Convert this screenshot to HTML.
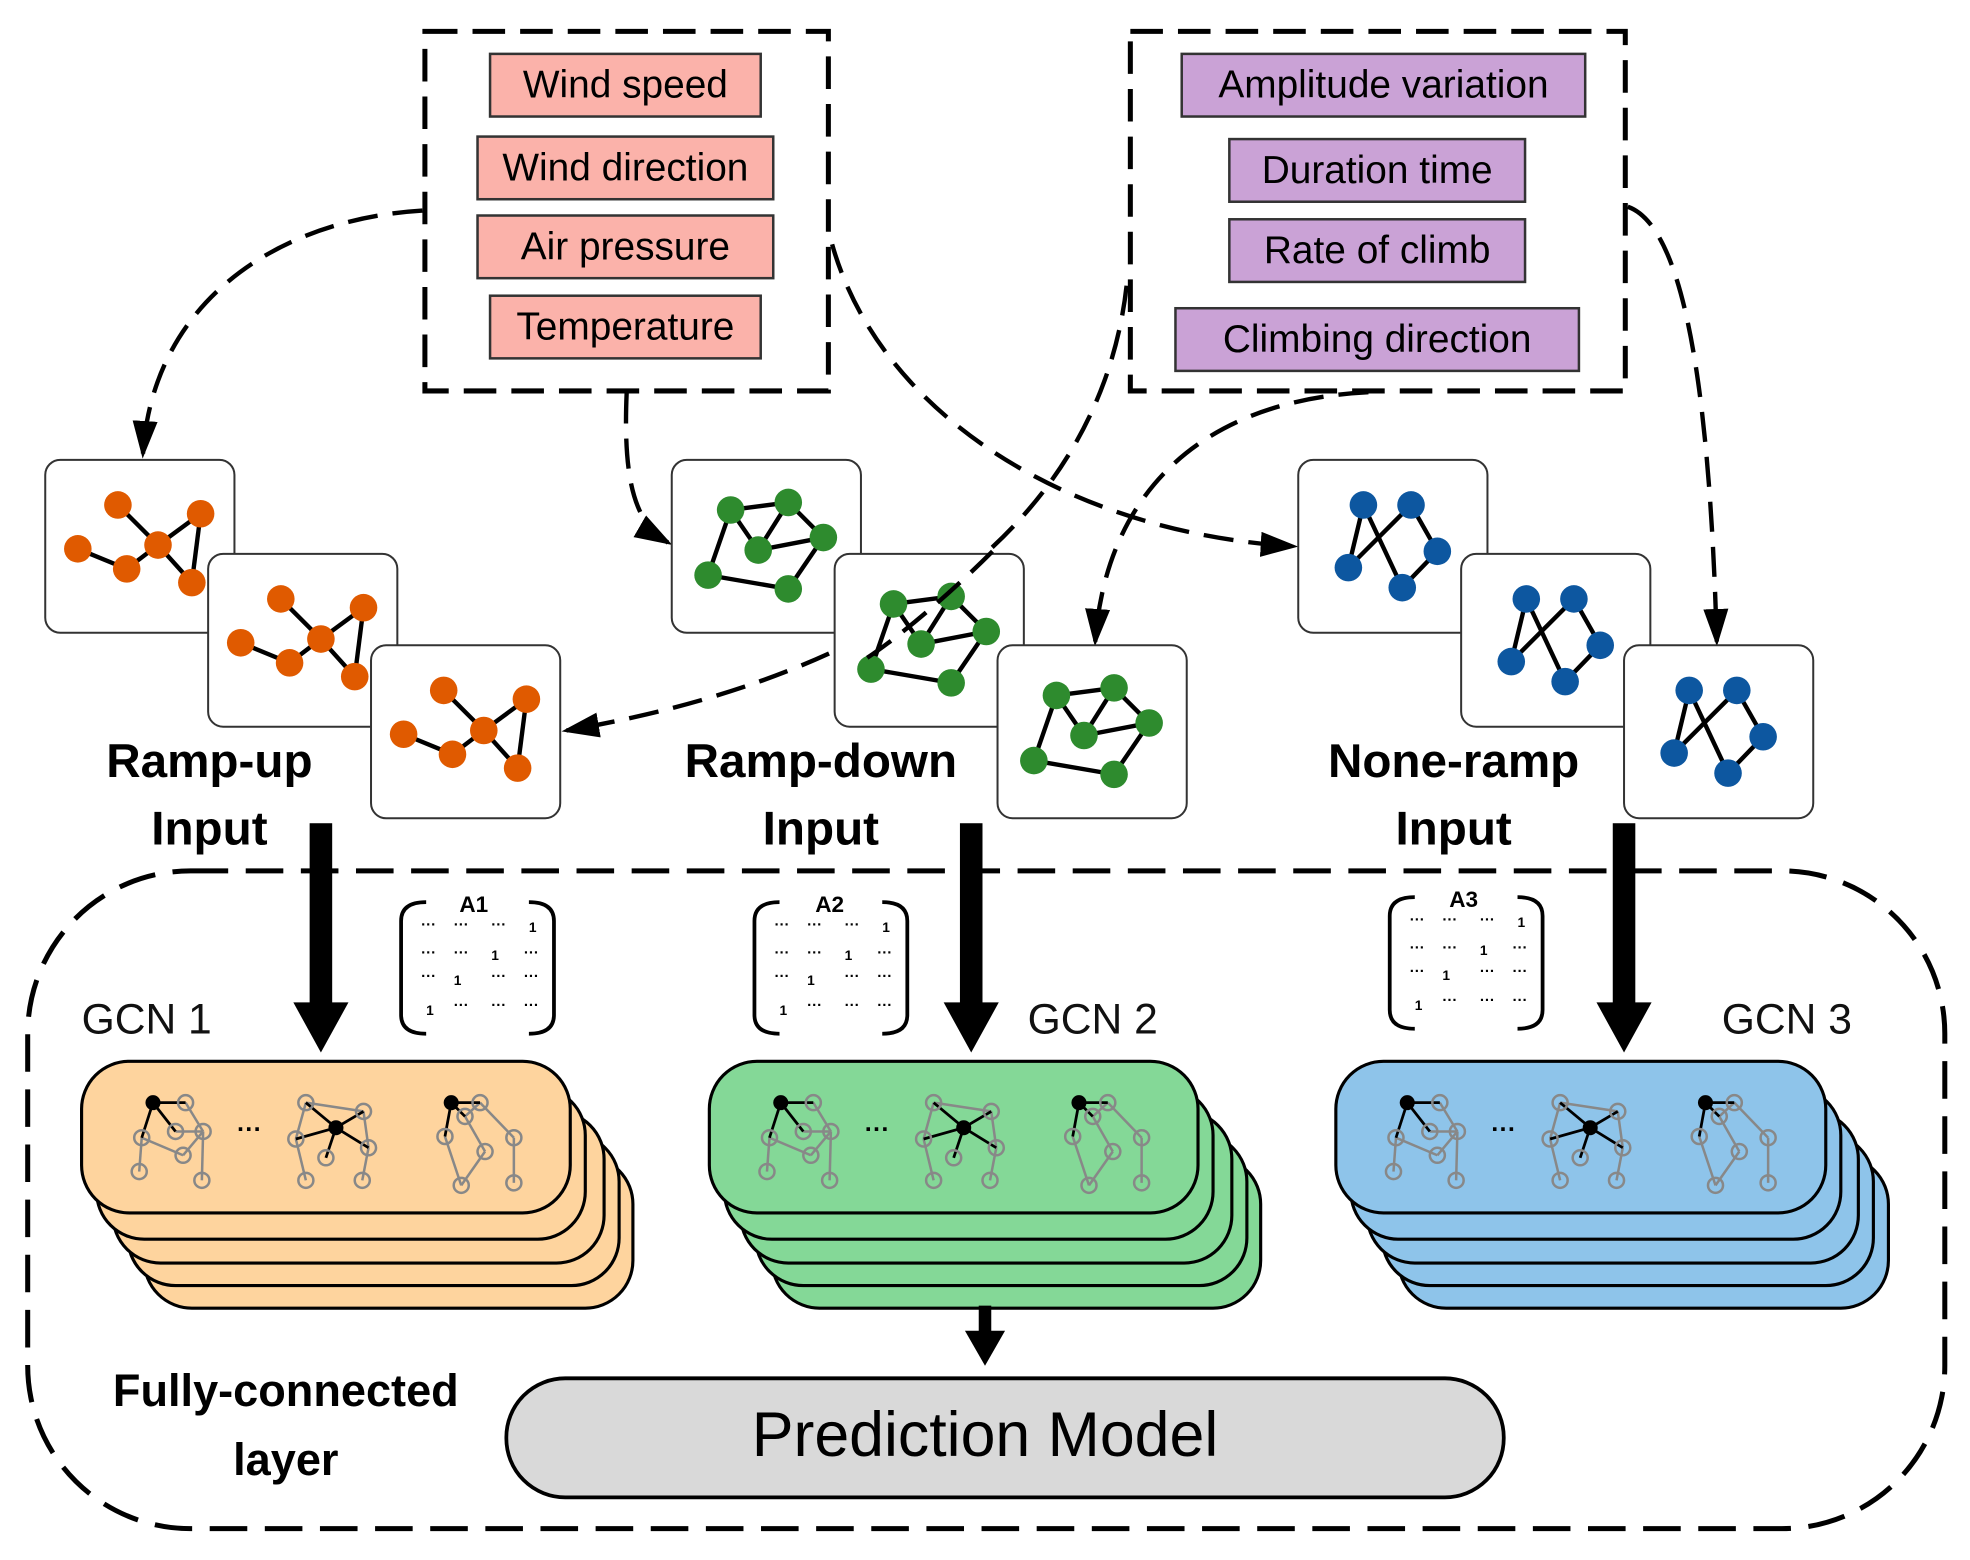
<!DOCTYPE html>
<html><head><meta charset="utf-8"><style>html,body{margin:0;padding:0;background:#fff}svg{display:block}</style></head><body>
<svg width="1970" height="1560" viewBox="0 0 1568 1245" xmlns="http://www.w3.org/2000/svg" font-family="Liberation Sans, sans-serif">
<defs>
<marker id="ah" markerWidth="30" markerHeight="20" refX="26" refY="10" orient="auto" markerUnits="userSpaceOnUse" viewBox="0 0 30 20"><path d="M0,0 L30,10 L0,20 z" fill="#000"/></marker>
<g id="og" stroke="#000" stroke-width="3.5">
<line x1="58" y1="36" x2="90" y2="68"/><line x1="90" y1="68" x2="124" y2="43"/><line x1="124" y1="43" x2="117" y2="98"/><line x1="90" y1="68" x2="117" y2="98"/><line x1="90" y1="68" x2="65" y2="87"/><line x1="65" y1="87" x2="26" y2="71"/>
<g fill="#e05a00" stroke="none"><circle cx="58" cy="36" r="11"/><circle cx="124" cy="43" r="11"/><circle cx="26" cy="71" r="11"/><circle cx="90" cy="68" r="11"/><circle cx="65" cy="87" r="11"/><circle cx="117" cy="98" r="11"/></g></g>
<g id="gg" stroke="#000" stroke-width="3.5">
<line x1="47" y1="40" x2="93" y2="34"/><line x1="93" y1="34" x2="121" y2="62"/><line x1="47" y1="40" x2="29" y2="92"/><line x1="69" y1="72" x2="121" y2="62"/><line x1="47" y1="40" x2="69" y2="72"/><line x1="121" y1="62" x2="93" y2="103"/><line x1="29" y1="92" x2="93" y2="103"/><line x1="69" y1="72" x2="93" y2="34"/>
<g fill="#2e8b2e" stroke="none"><circle cx="47" cy="40" r="11"/><circle cx="93" cy="34" r="11"/><circle cx="121" cy="62" r="11"/><circle cx="69" cy="72" r="11"/><circle cx="29" cy="92" r="11"/><circle cx="93" cy="103" r="11"/></g></g>
<g id="bg" stroke="#000" stroke-width="3.5">
<line x1="52" y1="36" x2="40" y2="86"/><line x1="52" y1="36" x2="83" y2="102"/><line x1="90" y1="36" x2="40" y2="86"/><line x1="90" y1="36" x2="111" y2="73"/><line x1="111" y1="73" x2="83" y2="102"/>
<g fill="#0d57a0" stroke="none"><circle cx="52" cy="36" r="11"/><circle cx="90" cy="36" r="11"/><circle cx="111" cy="73" r="11"/><circle cx="40" cy="86" r="11"/><circle cx="83" cy="102" r="11"/></g></g>
<g id="icons">
<g stroke="#888" stroke-width="2" fill="none">
<line x1="146" y1="880" x2="160" y2="903"/><line x1="111" y1="908" x2="144" y2="922"/><line x1="144" y1="922" x2="160" y2="903"/><line x1="138" y1="903" x2="160" y2="903"/><line x1="111" y1="908" x2="109" y2="935"/><line x1="160" y1="903" x2="159" y2="942"/>
<line x1="242" y1="880" x2="288" y2="887"/><line x1="234" y1="909" x2="242" y2="942"/><line x1="288" y1="887" x2="292" y2="916"/><line x1="292" y1="916" x2="287" y2="942"/><line x1="242" y1="880" x2="234" y2="909"/>
<line x1="381" y1="880" x2="408" y2="908"/><line x1="408" y1="908" x2="408" y2="944"/><line x1="369" y1="891" x2="385" y2="919"/><line x1="385" y1="919" x2="366" y2="946"/><line x1="353" y1="907" x2="366" y2="946"/><line x1="381" y1="880" x2="369" y2="891"/>
</g>
<g stroke="#000" stroke-width="2.2">
<line x1="120" y1="880" x2="146" y2="880"/><line x1="120" y1="880" x2="111" y2="908"/><line x1="120" y1="880" x2="138" y2="903"/>
<line x1="266" y1="900" x2="242" y2="880"/><line x1="266" y1="900" x2="288" y2="887"/><line x1="266" y1="900" x2="234" y2="909"/><line x1="266" y1="900" x2="292" y2="916"/><line x1="266" y1="900" x2="258" y2="924"/>
<line x1="358" y1="880" x2="381" y2="880"/><line x1="358" y1="880" x2="353" y2="907"/><line x1="358" y1="880" x2="369" y2="891"/>
</g>
<g fill="none" stroke="#888" stroke-width="2">
<circle cx="146" cy="880" r="6"/><circle cx="111" cy="908" r="6"/><circle cx="138" cy="903" r="6"/><circle cx="160" cy="903" r="6"/><circle cx="144" cy="922" r="6"/><circle cx="109" cy="935" r="6"/><circle cx="159" cy="942" r="6"/>
<circle cx="242" cy="880" r="6"/><circle cx="288" cy="887" r="6"/><circle cx="234" cy="909" r="6"/><circle cx="292" cy="916" r="6"/><circle cx="258" cy="924" r="6"/><circle cx="242" cy="942" r="6"/><circle cx="287" cy="942" r="6"/>
<circle cx="381" cy="880" r="6"/><circle cx="353" cy="907" r="6"/><circle cx="369" cy="891" r="6"/><circle cx="408" cy="908" r="6"/><circle cx="385" cy="919" r="6"/><circle cx="366" cy="946" r="6"/><circle cx="408" cy="944" r="6"/>
</g>
<circle cx="120" cy="880" r="6" fill="#000"/><circle cx="266" cy="900" r="6" fill="#000"/><circle cx="358" cy="880" r="6" fill="#000"/>
<text x="197" y="908" font-size="20" text-anchor="middle" font-weight="bold">···</text>
</g>
<g id="mat" font-size="12" font-weight="bold">
<path d="M20,0 Q0,0 0,15 L0,90 Q0,105 20,105" fill="none" stroke="#000" stroke-width="3"/>
<path d="M102,0 Q122,0 122,15 L122,90 Q122,105 102,105" fill="none" stroke="#000" stroke-width="3"/>
<text x="16" y="22">···</text><text x="42" y="22">···</text><text x="72" y="22">···</text><text x="102" y="24" font-size="11">1</text>
<text x="16" y="44">···</text><text x="42" y="44">···</text><text x="72" y="46" font-size="11">1</text><text x="98" y="44">···</text>
<text x="16" y="63">···</text><text x="42" y="66" font-size="11">1</text><text x="72" y="63">···</text><text x="98" y="63">···</text>
<text x="20" y="90" font-size="11">1</text><text x="42" y="86">···</text><text x="72" y="86">···</text><text x="98" y="86">···</text>
</g>
</defs>

<g fill="none" stroke="#000" stroke-width="4" stroke-dasharray="26,12">
<rect x="337" y="25" width="322" height="287"/>
<rect x="900" y="25" width="395" height="287"/>
</g>
<g stroke="#333" stroke-width="2" fill="#fbb2aa">
<rect x="389" y="43" width="216" height="50"/><rect x="379" y="109" width="236" height="50"/><rect x="379" y="172" width="236" height="50"/><rect x="389" y="236" width="216" height="50"/>
</g>
<g stroke="#333" stroke-width="2" fill="#caa2d6">
<rect x="941" y="43" width="322" height="50"/><rect x="979" y="111" width="236" height="50"/><rect x="979" y="175" width="236" height="50"/><rect x="936" y="246" width="322" height="50"/>
</g>
<g font-size="31" text-anchor="middle" fill="#000">
<text x="497" y="78">Wind speed</text><text x="497" y="144">Wind direction</text><text x="497" y="207">Air pressure</text><text x="497" y="271">Temperature</text>
<text x="1102" y="78">Amplitude variation</text><text x="1097" y="146">Duration time</text><text x="1097" y="210">Rate of climb</text><text x="1097" y="281">Climbing direction</text>
</g>

<g fill="none" stroke="#000" stroke-width="3.5" stroke-dasharray="24,12" marker-end="url(#ah)">
<path d="M335,168 C220,175 120,240 112,362"/>
<path d="M498,314 C495,385 505,418 531,433"/>
<path d="M662,195 C700,330 850,425 1030,436"/>
<path d="M897,228 C880,380 760,530 450,583"/>
<path d="M1090,313 C950,320 880,400 872,512"/>
<path d="M1297,165 C1340,180 1362,300 1368,512"/>
</g>

<rect x="34" y="367" width="151" height="138" rx="12" fill="#fff" stroke="#333" stroke-width="1.6"/><use href="#og" x="34" y="367"/>
<rect x="164" y="442" width="151" height="138" rx="12" fill="#fff" stroke="#333" stroke-width="1.6"/><use href="#og" x="164" y="442"/>
<rect x="294" y="515" width="151" height="138" rx="12" fill="#fff" stroke="#333" stroke-width="1.6"/><use href="#og" x="294" y="515"/>
<rect x="534" y="367" width="151" height="138" rx="12" fill="#fff" stroke="#333" stroke-width="1.6"/><use href="#gg" x="534" y="367"/>
<rect x="664" y="442" width="151" height="138" rx="12" fill="#fff" stroke="#333" stroke-width="1.6"/><use href="#gg" x="664" y="442"/>
<rect x="794" y="515" width="151" height="138" rx="12" fill="#fff" stroke="#333" stroke-width="1.6"/><use href="#gg" x="794" y="515"/>
<rect x="1034" y="367" width="151" height="138" rx="12" fill="#fff" stroke="#333" stroke-width="1.6"/><use href="#bg" x="1034" y="367"/>
<rect x="1164" y="442" width="151" height="138" rx="12" fill="#fff" stroke="#333" stroke-width="1.6"/><use href="#bg" x="1164" y="442"/>
<rect x="1294" y="515" width="151" height="138" rx="12" fill="#fff" stroke="#333" stroke-width="1.6"/><use href="#bg" x="1294" y="515"/>
<path d="M790,440 C760,470 720,505 690,525" fill="none" stroke="#000" stroke-width="3.5" stroke-dasharray="24,12"/>

<g font-size="38" font-weight="bold" text-anchor="middle">
<text x="165" y="620">Ramp-up</text><text x="165" y="674">Input</text>
<text x="653" y="620">Ramp-down</text><text x="653" y="674">Input</text>
<text x="1158" y="620">None-ramp</text><text x="1158" y="674">Input</text>
</g>

<rect x="20" y="695" width="1530" height="525" rx="130" fill="none" stroke="#000" stroke-width="4" stroke-dasharray="30,14"/>

<g fill="#000">
<rect x="245" y="657" width="18" height="145"/><path d="M232,800 L276,800 L254,840 z"/>
<rect x="764" y="657" width="18" height="145"/><path d="M751,800 L795,800 L773,840 z"/>
<rect x="1285" y="657" width="18" height="145"/><path d="M1272,800 L1316,800 L1294,840 z"/>
</g>

<g font-size="34" fill="#111"><text x="63" y="825">GCN  1</text><text x="818" y="825">GCN  2</text><text x="1372" y="825">GCN  3</text></g>
<g font-size="18" font-weight="bold" text-anchor="middle"><text x="376" y="728">A1</text><text x="660" y="728">A2</text><text x="1166" y="724">A3</text></g>
<use href="#mat" x="318" y="720"/><use href="#mat" x="600" y="720"/><use href="#mat" x="1107" y="716"/>

<g stroke="#000" stroke-width="2.5">
<g fill="#fed49e">
<rect x="113" y="923" width="390" height="121" rx="38"/><rect x="100" y="905" width="392" height="121" rx="38"/><rect x="88" y="887" width="392" height="121" rx="38"/><rect x="75" y="868" width="390" height="121" rx="38"/><rect x="63" y="847" width="390" height="121" rx="38"/>
</g>
<g fill="#84d897">
<rect x="614" y="923" width="390" height="121" rx="38"/><rect x="601" y="905" width="392" height="121" rx="38"/><rect x="589" y="887" width="392" height="121" rx="38"/><rect x="576" y="868" width="390" height="121" rx="38"/><rect x="564" y="847" width="390" height="121" rx="38"/>
</g>
<g fill="#8ec4ea">
<rect x="1114" y="923" width="391" height="121" rx="38"/><rect x="1101" y="905" width="392" height="121" rx="38"/><rect x="1089" y="887" width="392" height="121" rx="38"/><rect x="1076" y="868" width="391" height="121" rx="38"/><rect x="1064" y="847" width="391" height="121" rx="38"/>
</g>
</g>
<use href="#icons"/><use href="#icons" x="501"/><use href="#icons" x="1001"/>

<rect x="779" y="1042" width="10" height="25" fill="#000"/><path d="M768,1062 L800,1062 L784,1090 z" fill="#000"/>
<rect x="402" y="1100" width="796" height="95" rx="47" fill="#d9d9d9" stroke="#000" stroke-width="3"/>
<text x="784" y="1162" font-size="50" text-anchor="middle">Prediction Model</text>
<g font-size="36" font-weight="bold" text-anchor="middle"><text x="226" y="1122">Fully-connected</text><text x="226" y="1177">layer</text></g>
</svg>
</body></html>
